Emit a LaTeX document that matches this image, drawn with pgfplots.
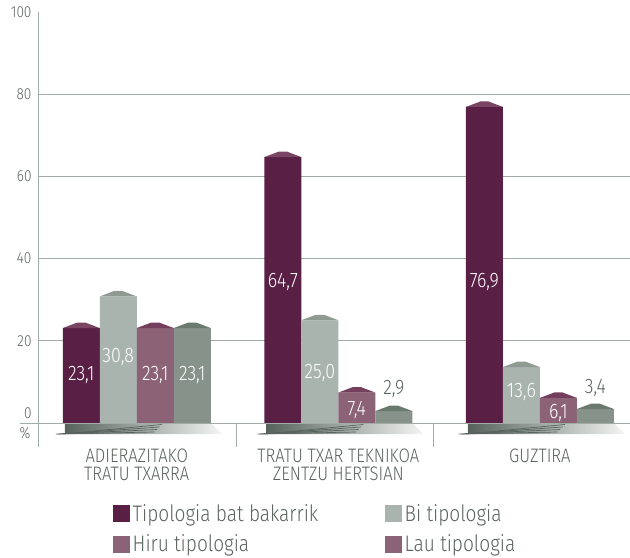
\documentclass[border=0pt]{standalone}
\usepackage{fontspec}
\setmainfont{Fira Sans Light}[FakeStretch=0.85]
\usepackage{pgfplots}
\usepackage{pgfplotstable}
\pgfplotsset{compat=1.18}
\definecolor{cA}{HTML}{5A1F45}
\definecolor{cB}{HTML}{AAB4AE}
\definecolor{cC}{HTML}{8C6277}
\definecolor{cD}{HTML}{87938A}
\definecolor{kA}{HTML}{7A4562}
\definecolor{kB}{HTML}{8E9A92}
\definecolor{kC}{HTML}{743F5C}
\definecolor{kD}{HTML}{6A7A6E}
\definecolor{txt}{HTML}{5B635E}
\definecolor{gridc}{HTML}{A3ABA6}
\definecolor{bandL}{HTML}{56625B}
\definecolor{bandR}{HTML}{F3F5F3}
\pgfdeclareplotmark{roof}{%
  \pgfpathmoveto{\pgfpoint{-18.5bp}{0bp}}%
  \pgfpathlineto{\pgfpoint{-4bp}{5.5bp}}%
  \pgfpathlineto{\pgfpoint{4bp}{5.5bp}}%
  \pgfpathlineto{\pgfpoint{18.5bp}{0bp}}%
  \pgfpathclose\pgfusepathqfill}
\pgfplotstableread{
x y
0 23.1
1 64.7
2 76.9
}\serA
\pgfplotstableread{
x y
0 30.8
1 25.0
2 13.6
}\serB
\pgfplotstableread{
x y
0 23.1
1 7.4
2 6.1
}\serC
\pgfplotstableread{
x y
0 23.1
1 2.9
2 3.4
}\serD
\newcommand{\band}[1]{%
  \shade[left color=bandL, right color=bandR]
    ([xshift=-72bp]axis cs:#1,0) -- ([xshift=74bp]axis cs:#1,0) --
    ([xshift=85bp,yshift=-11bp]axis cs:#1,0) -- ([xshift=-72bp,yshift=-11bp]axis cs:#1,0) -- cycle;
  \draw[bandL, line width=0.7bp] ([xshift=-81bp,yshift=-11bp]axis cs:#1,0) -- ++(0,2bp);
  \draw[bandL, line width=0.7bp] ([xshift=-78.5bp,yshift=-11bp]axis cs:#1,0) -- ++(0,4.5bp);
  \draw[bandL, line width=0.7bp] ([xshift=-76bp,yshift=-11bp]axis cs:#1,0) -- ++(0,7bp);
  \draw[bandL, line width=0.7bp] ([xshift=-73.8bp,yshift=-11bp]axis cs:#1,0) -- ++(0,9.5bp);
}
\begin{document}
\begin{tikzpicture}
\useasboundingbox (-38bp,-135bp) rectangle (592bp,423bp);
\begin{axis}[
  scale only axis, width=592bp, height=411bp,
  xmin=-0.49, xmax=2.447, ymin=0, ymax=100,
  clip=false,
  axis line style={draw=none},
  tick style={draw=none}, major tick length=0pt,
  xtick={0,1,2},
  xticklabels={{ADIERAZITAKO\\TRATU TXARRA},{TRATU TXAR TEKNIKOA\\ZENTZU HERTSIAN},{GUZTIRA}},
  xticklabel style={align=center, anchor=north, yshift=-22bp, text=txt,
    font=\fontsize{19.5bp}{18.5bp}\selectfont},
  ytick={20,40,60,80,100},
  extra y ticks={0},
  extra y tick style={yticklabel style={yshift=10bp}},
  yticklabel style={text=txt, xshift=-3bp, font=\fontsize{16bp}{18bp}\selectfont},
  /pgf/number format/assume math mode=true,
  legend columns=2,
  legend image code/.code={\fill[#1] (0bp,-8.5bp) rectangle (17bp,8.5bp);},
  legend style={draw=none, fill=none, at={(axis description cs:0.1267,-0.192)},
    anchor=north west, text=txt, font=\fontsize{22.5bp}{25bp}\selectfont,
    inner sep=0pt, row sep=7bp, nodes={inner sep=2.5bp}},
  legend cell align=left,
]
% grid lines
\pgfplotsinvokeforeach{20,40,60,80}{
  \draw[gridc, line width=0.8bp] (axis cs:-0.49,#1) -- (axis cs:2.447,#1);
}
% bars
\addplot[ybar, bar width=37bp, bar shift=-55.5bp, fill=cA, draw=none, forget plot] table[x=x,y=y] {\serA};
\addplot[ybar, bar width=37bp, bar shift=-18.5bp, fill=cB, draw=none, forget plot] table[x=x,y=y] {\serB};
\addplot[ybar, bar width=37bp, bar shift=18.5bp, fill=cC, draw=none, forget plot] table[x=x,y=y] {\serC};
\addplot[ybar, bar width=37bp, bar shift=55.5bp, fill=cD, draw=none, forget plot] table[x=x,y=y] {\serD};
% roofs
\addplot[only marks, mark=roof, color=kA, mark options={xshift=-55.5bp}, forget plot] table[x=x,y=y] {\serA};
\addplot[only marks, mark=roof, color=kB, mark options={xshift=-18.5bp}, forget plot] table[x=x,y=y] {\serB};
\addplot[only marks, mark=roof, color=kC, mark options={xshift=18.5bp}, forget plot] table[x=x,y=y] {\serC};
\addplot[only marks, mark=roof, color=kD, mark options={xshift=55.5bp}, forget plot] table[x=x,y=y] {\serD};
% value labels
\addplot[draw=none, mark=none, forget plot, nodes near coords, point meta=explicit symbolic,
  nodes near coords style={white, anchor=center, xshift=-55.5bp, font=\fontsize{21bp}{22bp}\selectfont}]
  table[x=x,y=y,meta=l,row sep=\\] {x y l\\ 0 11.7 23,1\\ 1 34.3 64,7\\ 2 34.3 76,9\\};
\addplot[draw=none, mark=none, forget plot, nodes near coords, point meta=explicit symbolic,
  nodes near coords style={white, anchor=center, xshift=-18.5bp, font=\fontsize{21bp}{22bp}\selectfont}]
  table[x=x,y=y,meta=l,row sep=\\] {x y l\\ 0 16.1 30,8\\ 1 12.2 25,0\\ 2 7.5 13,6\\};
\addplot[draw=none, mark=none, forget plot, nodes near coords, point meta=explicit symbolic,
  nodes near coords style={white, anchor=center, xshift=18.5bp, font=\fontsize{21bp}{22bp}\selectfont}]
  table[x=x,y=y,meta=l,row sep=\\] {x y l\\ 0 11.7 23,1\\ 1 3.2 7,4\\ 2 2.4 6,1\\};
\addplot[draw=none, mark=none, forget plot, nodes near coords, point meta=explicit symbolic,
  nodes near coords style={white, anchor=center, xshift=55.5bp, font=\fontsize{21bp}{22bp}\selectfont}]
  table[x=x,y=y,meta=l,row sep=\\] {x y l\\ 0 11.7 23,1\\};
\addplot[draw=none, mark=none, forget plot, nodes near coords, point meta=explicit symbolic,
  nodes near coords style={txt, anchor=center, xshift=55.5bp, font=\fontsize{21bp}{22bp}\selectfont}]
  table[x=x,y=y,meta=l,row sep=\\] {x y l\\ 1 8.3 2,9\\ 2 8.5 3,4\\};
% bands and axis lines
\band{0}\band{1}\band{2}
\draw[gridc, line width=0.8bp] ([xshift=-18bp]axis cs:-0.49,0) -- (axis cs:2.447,0);
\draw[gridc, line width=0.8bp] (axis cs:-0.49,100) -- ([yshift=-24bp]axis cs:-0.49,0);
\draw[gridc, line width=0.8bp] (axis cs:0.496,0) -- ([yshift=-24bp]axis cs:0.496,0);
\draw[gridc, line width=0.8bp] (axis cs:1.473,0) -- ([yshift=-24bp]axis cs:1.473,0);
\node[text=txt, font=\fontsize{16bp}{18bp}\selectfont] at ([xshift=-13bp,yshift=-10bp]axis cs:-0.49,0) {\%};
% legend
\addlegendimage{fill=cA, draw=none}\addlegendentry{\makebox[250bp][l]{Tipologia bat bakarrik}}
\addlegendimage{fill=cB, draw=none}\addlegendentry{Bi tipologia}
\addlegendimage{fill=cC, draw=none}\addlegendentry{\makebox[250bp][l]{Hiru tipologia}}
\addlegendimage{fill=cC, draw=none}\addlegendentry{Lau tipologia}
\end{axis}
\end{tikzpicture}
\end{document}
